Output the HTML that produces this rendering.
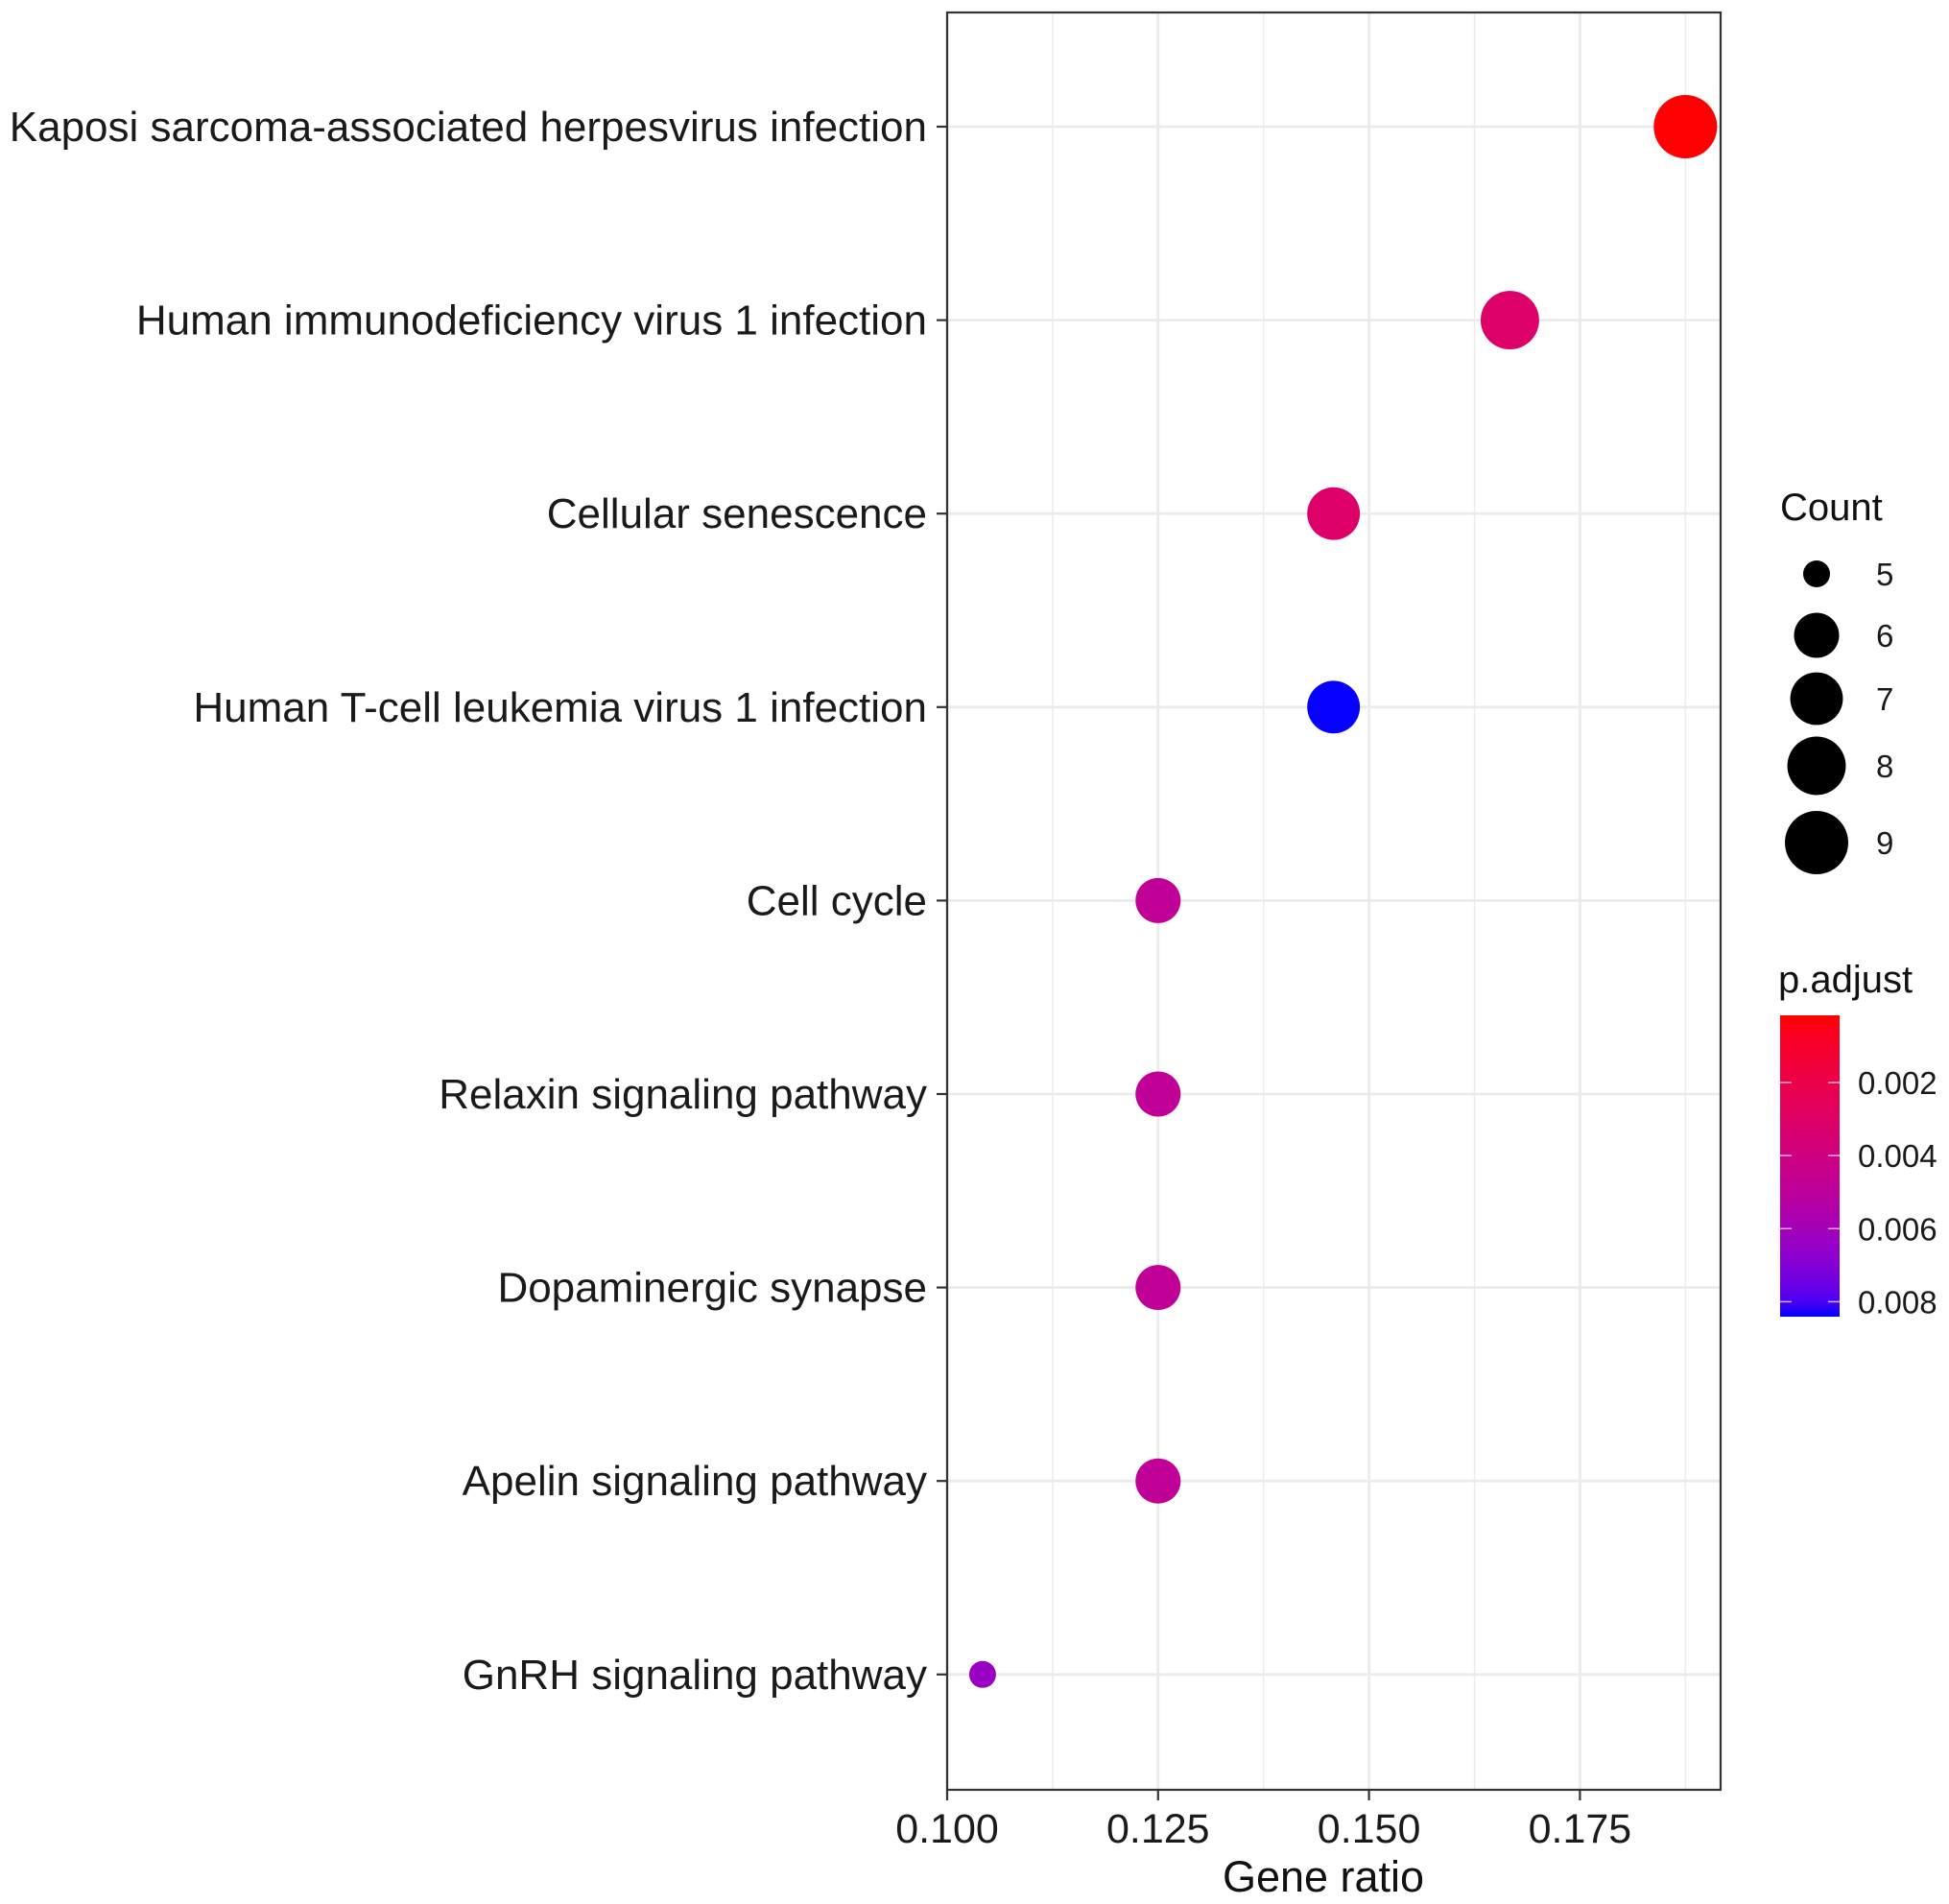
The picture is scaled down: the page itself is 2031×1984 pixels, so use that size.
<!DOCTYPE html>
<html><head><meta charset="utf-8"><style>
html,body{margin:0;padding:0;background:#fff;}
svg{display:block;font-family:"Liberation Sans",Arial,sans-serif;}
</style></head><body>
<svg id="chart" width="2031" height="1984" viewBox="0 0 2031 1984" xmlns="http://www.w3.org/2000/svg">
<g id="grid"></g>
<g id="marks"></g>
<rect x="987" y="13" width="806" height="1852" fill="none" stroke="#333" stroke-width="2.2"/>
<g id="axes"></g>
<text x="1379" y="1971" font-size="45" text-anchor="middle" fill="#111">Gene ratio</text>
<g id="legend"></g>
</svg>
<script>
const categories = ["Kaposi sarcoma-associated herpesvirus infection","Human immunodeficiency virus 1 infection","Cellular senescence","Human T-cell leukemia virus 1 infection","Cell cycle","Relaxin signaling pathway","Dopaminergic synapse","Apelin signaling pathway","GnRH signaling pathway"];
const geneRatio = [0.1875,0.1667,0.1458,0.1458,0.125,0.125,0.125,0.125,0.1042];
const counts = [9,8,7,7,6,6,6,6,5];
const pAdjust = [0.0002,0.0031,0.0031,0.0084,0.0048,0.0048,0.0048,0.0048,0.0064];
const xTicks = [0.100,0.125,0.150,0.175];
const xTickLabels = ["0.100","0.125","0.150","0.175"];
const countLegend = [5,6,7,8,9];
const pTicks = [0.002,0.004,0.006,0.008];
const pTickLabels = ["0.002","0.004","0.006","0.008"];

const NS="http://www.w3.org/2000/svg";
const L=987,R=1793,T=13,B=1865;
const x = v => L + (v-0.100)/0.025*219.8;
const y = i => 132 + i*201.6;
const rScale = c => 14 + 19*Math.sqrt(Math.max(0,(c-5)/4));
const pMin=0.00016,pMax=0.00841;
function mk(tag,attrs,parent){const e=document.createElementNS(NS,tag);for(const k in attrs)e.setAttribute(k,attrs[k]);parent.appendChild(e);return e;}
function srgbToLin(c){c/=255;return c<=0.04045?c/12.92:Math.pow((c+0.055)/1.055,2.4);}
function linToSrgb(c){c=c<=0.0031308?12.92*c:1.055*Math.pow(c,1/2.4)-0.055;return Math.max(0,Math.min(255,Math.round(c*255)));}
function toLab(r,g,b){r=srgbToLin(r);g=srgbToLin(g);b=srgbToLin(b);
 let X=(0.4124*r+0.3576*g+0.1805*b)/0.95047,Y=0.2126*r+0.7152*g+0.0722*b,Z=(0.0193*r+0.1192*g+0.9505*b)/1.08883;
 const f=t=>t>0.008856?Math.cbrt(t):7.787*t+16/116;
 return [116*f(Y)-16,500*(f(X)-f(Y)),200*(f(Y)-f(Z))];}
function fromLab(l,a,bb){const fy=(l+16)/116,fx=fy+a/500,fz=fy-bb/200;
 const fi=t=>t*t*t>0.008856?t*t*t:(t-16/116)/7.787;
 const X=fi(fx)*0.95047,Y=fi(fy),Z=fi(fz)*1.08883;
 const r=3.2406*X-1.5372*Y-0.4986*Z,g=-0.9689*X+1.8758*Y+0.0415*Z,b=0.0557*X-0.2040*Y+1.0570*Z;
 return `rgb(${linToSrgb(r)},${linToSrgb(g)},${linToSrgb(b)})`;}
const labR=toLab(255,0,0),labB=toLab(0,0,255);
function color(p){let t=(p-pMin)/(pMax-pMin);t=Math.max(0,Math.min(1,t));
 return fromLab(labR[0]+(labB[0]-labR[0])*t,labR[1]+(labB[1]-labR[1])*t,labR[2]+(labB[2]-labR[2])*t);}

const grid=document.getElementById('grid');
for(let i=0;i<xTicks.length;i++){const v=xTicks[i]+0.0125;const gx=x(v);if(gx<R){
 const l=mk('line',{x1:gx,x2:gx,y1:T,y2:B,stroke:'#ebebeb','stroke-width':1.4},grid);
 }}
xTicks.forEach(v=>{const l=mk('line',{x1:x(v),x2:x(v),y1:T,y2:B,stroke:'#ebebeb','stroke-width':2.8},grid);
 });
categories.forEach((c,i)=>{const l=mk('line',{x1:L,x2:R,y1:y(i),y2:y(i),stroke:'#ebebeb','stroke-width':2.8},grid);
 });

const marks=document.getElementById('marks');
categories.forEach((c,i)=>{const d=mk('circle',{cx:x(geneRatio[i]),cy:y(i),r:rScale(counts[i]),fill:color(pAdjust[i])},marks);
 
 });

const axes=document.getElementById('axes');
categories.forEach((c,i)=>{
 mk('line',{x1:976,x2:L,y1:y(i),y2:y(i),stroke:'#333','stroke-width':2.2},axes);
 const t=mk('text',{x:966,y:y(i)+15,'font-size':44,'text-anchor':'end',fill:'#1a1a1a'},axes);t.textContent=c;
 });
xTicks.forEach((v,i)=>{
 mk('line',{x1:x(v),x2:x(v),y1:B,y2:B+11,stroke:'#333','stroke-width':2.2},axes);
 const t=mk('text',{x:x(v),y:1920,'font-size':43,'text-anchor':'middle',fill:'#1a1a1a'},axes);t.textContent=xTickLabels[i];
 });

const lg=document.getElementById('legend');
let tt=mk('text',{x:1855,y:542,'font-size':40,fill:'#111'},lg);tt.textContent='Count';

const ly=[598,662,728,798,878];
countLegend.forEach((c,i)=>{const cc=mk('circle',{cx:1893,cy:ly[i],r:rScale(c),fill:'#000'},lg);
 
 const t=mk('text',{x:1955,y:ly[i]+12,'font-size':33,fill:'#1a1a1a'},lg);t.textContent=c;
 });
tt=mk('text',{x:1853,y:1034,'font-size':40,fill:'#111'},lg);tt.textContent='p.adjust';

const defs=mk('defs',{},lg);const gr=mk('linearGradient',{id:'pg',x1:0,y1:0,x2:0,y2:1},defs);
for(let k=0;k<=20;k++){mk('stop',{offset:k/20,'stop-color':color(pMin+(pMax-pMin)*k/20)},gr);}
const cbT=1058,cbB=1372;
const cy=p=>cbT+(p-pMin)/(pMax-pMin)*(cbB-cbT);
const cb=mk('rect',{x:1855,y:cbT,width:62,height:cbB-cbT,fill:'url(#pg)'},lg);

pTicks.forEach((p,i)=>{
 mk('line',{x1:1855,x2:1867,y1:cy(p),y2:cy(p),stroke:'#fff','stroke-width':1.5,opacity:0.7},lg);
 mk('line',{x1:1905,x2:1917,y1:cy(p),y2:cy(p),stroke:'#fff','stroke-width':1.5,opacity:0.7},lg);
 const t=mk('text',{x:1936,y:cy(p)+12,'font-size':33,fill:'#1a1a1a'},lg);t.textContent=pTickLabels[i];
 });
</script>
</body></html>
